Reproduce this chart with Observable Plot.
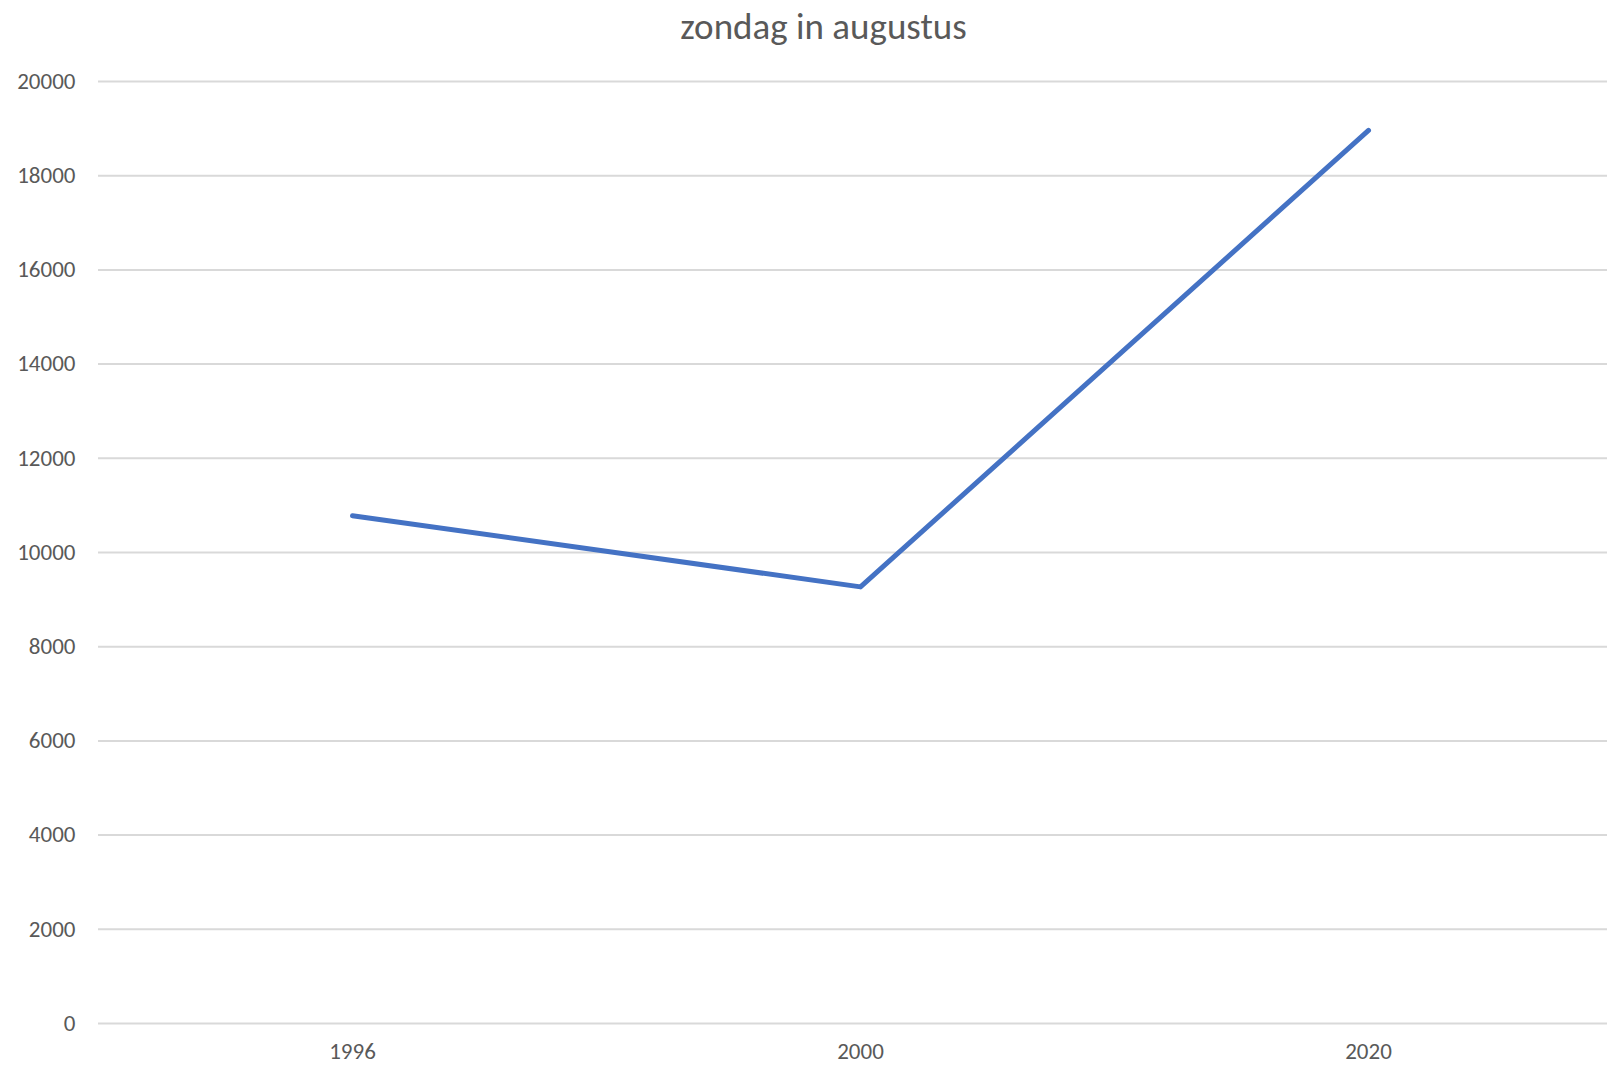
<!DOCTYPE html>
<html>
<head>
<meta charset="utf-8">
<script src="https://cdn.jsdelivr.net/npm/d3@7"></script>
<script src="https://cdn.jsdelivr.net/npm/@observablehq/plot@0.6"></script>
<style>
  html, body { margin: 0; padding: 0; background: #fff; }
  #title {
    width: 1607px; height: 60px; box-sizing: border-box;
    font-family: Carlito, Lato, "Open Sans", sans-serif;
    font-size: 37px; color: #595959;
    padding-left: 40px; text-align: center; line-height: 54px;
  }
</style>
</head>
<body>
<div id="title">zondag in augustus</div>
<div id="chart"></div>
<script>
const years = ["1996", "2000", "2020"];
const values = [10780, 9270, 18960];
const yTicks = [0, 2000, 4000, 6000, 8000, 10000, 12000, 14000, 16000, 18000, 20000];

const data = years.map((y, i) => ({year: y, value: values[i]}));

const chart = Plot.plot({
  width: 1607,
  height: 1005,
  marginTop: 21,
  marginBottom: 42,
  marginLeft: 98,
  marginRight: 0,
  style: {fontFamily: "Carlito, Lato, 'Open Sans', sans-serif", fontSize: "23px", color: "#595959", background: "#fff"},
  x: {type: "point", domain: years, padding: 0, range: [351, 1368], label: null, tickSize: 0, tickPadding: 19},
  y: {domain: [0, 20000], ticks: yTicks, label: null, tickSize: 0, tickPadding: 23, tickFormat: d => String(d)},
  marks: [
    Plot.ruleY(yTicks, {stroke: "#d9d9d9", strokeWidth: 2}),
    Plot.line(data, {x: "year", y: "value", stroke: "#4472C4", strokeWidth: 5, strokeLinecap: "round", strokeLinejoin: "round"})
  ]
});
document.getElementById("chart").appendChild(chart);
</script>
</body>
</html>
